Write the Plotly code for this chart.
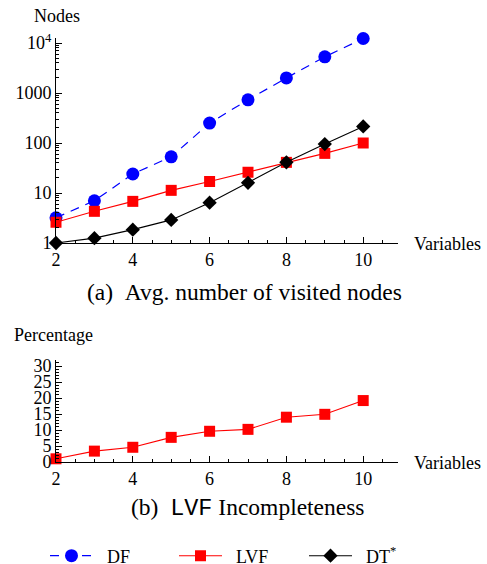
import plotly.graph_objects as go

variables = [2, 3, 4, 5, 6, 7, 8, 9, 10]
df_nodes = [3.2, 7.0, 24, 53, 250, 730, 2000, 5300, 12300]
lvf_nodes = [2.6, 4.3, 6.8, 11.3, 17, 26, 41, 62, 100]
dt_nodes = [1.0, 1.25, 1.85, 2.9, 6.4, 16, 41, 95, 215]
lvf_incomplete = [1.0, 3.4, 4.6, 7.7, 9.6, 10.2, 14.0, 14.9, 19.2]

y_top_vals = [1, 10, 100, 1000, 10000]
y_top_text = ["1", "10", "100", "1000", "10<sup>4</sup>"]
x_vals = [2, 4, 6, 8, 10]
y_bot_vals = [0, 5, 10, 15, 20, 25, 30]

W, H = 487, 564
SERIF = "Liberation Serif"

fig = go.Figure()

fig.add_trace(go.Scatter(x=variables, y=df_nodes, name="\u00a0\u00a0DF", mode="lines+markers",
                         line=dict(color="#0000ff", width=1.2, dash="9px,7px"),
                         marker=dict(symbol="circle", size=13, color="#0000ff"),
                         cliponaxis=False, xaxis="x", yaxis="y", legend="legend"))
fig.add_trace(go.Scatter(x=variables, y=lvf_nodes, name="\u00a0\u00a0LVF", mode="lines+markers",
                         line=dict(color="#ff0000", width=1.1),
                         marker=dict(symbol="square", size=11, color="#ff0000"),
                         cliponaxis=False, xaxis="x", yaxis="y", legend="legend2"))
fig.add_trace(go.Scatter(x=variables, y=dt_nodes, name="\u00a0\u00a0DT<sup>*</sup>", mode="lines+markers",
                         line=dict(color="#000000", width=1.1),
                         marker=dict(symbol="diamond", size=11, color="#000000"),
                         cliponaxis=False, xaxis="x", yaxis="y", legend="legend3"))
fig.add_trace(go.Scatter(x=variables, y=lvf_incomplete, name="LVF", mode="lines+markers",
                         line=dict(color="#ff0000", width=1.1),
                         marker=dict(symbol="square", size=11, color="#ff0000"),
                         cliponaxis=False, showlegend=False, xaxis="x2", yaxis="y2"))

x0, x1 = 56, 398
xrange = [2, 2 + (x1 - x0) / 38.4]

common_x = dict(showline=True, linecolor="black", linewidth=1, showgrid=False, zeroline=False,
                ticks="inside", ticklen=6, tickcolor="black", tickvals=x_vals,
                tickfont=dict(family=SERIF, size=18, color="black"),
                minor=dict(ticks="inside", ticklen=3, dtick=0.5, tick0=2, tickcolor="black", showgrid=False),
                range=xrange, domain=[x0 / W, x1 / W], fixedrange=True)

top_range = [0, 4.095]
ytop_bottom = 243
ytop_top = 243 - top_range[1] * 50
ybot_bottom = 462
ybot_top = 462 - 32 * 3.2


def leg(xpx):
    return dict(orientation="h", x=xpx / W, xanchor="left", y=1 - 556 / H, yanchor="middle",
                font=dict(family=SERIF, size=18, color="black"), itemwidth=43,
                bgcolor="rgba(0,0,0,0)")


fig.update_layout(
    width=W, height=H, margin=dict(l=0, r=0, t=0, b=0, autoexpand=False),
    paper_bgcolor="white", plot_bgcolor="white",
    font=dict(family=SERIF, color="black"),
    xaxis=dict(common_x, anchor="y"),
    yaxis=dict(type="log", range=top_range, showline=True, linecolor="black", linewidth=1,
               showgrid=False, zeroline=False, ticks="inside", ticklen=6, tickcolor="black",
               tickvals=y_top_vals, ticktext=y_top_text,
               tickfont=dict(family=SERIF, size=18, color="black"),
               minor=dict(ticks="inside", ticklen=3, dtick="D1", tickcolor="black", showgrid=False),
               domain=[1 - ytop_bottom / H, 1 - ytop_top / H], anchor="x", fixedrange=True),
    xaxis2=dict(common_x, anchor="y2"),
    yaxis2=dict(range=[0, 32], showline=True, linecolor="black", linewidth=1,
                showgrid=False, zeroline=False, ticks="inside", ticklen=6, tickcolor="black",
                tickvals=y_bot_vals,
                tickfont=dict(family=SERIF, size=18, color="black"),
                minor=dict(ticks="inside", ticklen=3, dtick=1, tickcolor="black", showgrid=False),
                domain=[1 - ybot_bottom / H, 1 - ybot_top / H], anchor="x2", fixedrange=True),
    legend=leg(45),
    legend2=leg(174),
    legend3=leg(304),
    showlegend=True,
)

ann = [
    dict(text="Nodes", x=32 / W, y=1 - 16 / H, xanchor="left", yanchor="middle", font_size=18),
    dict(text="Variables", x=412 / W, y=1 - 244 / H, xanchor="left", yanchor="middle", font_size=18),
    dict(text="(a)\u00a0\u00a0Avg. number of visited nodes", x=244 / W, y=1 - 292 / H,
         xanchor="center", yanchor="middle", font_size=23.5),
    dict(text="Percentage", x=12 / W, y=1 - 335 / H, xanchor="left", yanchor="middle", font_size=18),
    dict(text="Variables", x=412 / W, y=1 - 463 / H, xanchor="left", yanchor="middle", font_size=18),
    dict(text="(b)\u00a0\u00a0<span style=\"font-family:Liberation Mono\">LVF</span> Incompleteness",
         x=248 / W, y=1 - 508 / H, xanchor="center", yanchor="middle", font_size=23.5),
]
for a in ann:
    fs = a.pop("font_size")
    fig.add_annotation(xref="paper", yref="paper", showarrow=False,
                       font=dict(family=SERIF, size=fs, color="black"), **a)

fig.write_html("out.html", config={"displayModeBar": False},
               post_script="document.body.style.margin='0px';")
